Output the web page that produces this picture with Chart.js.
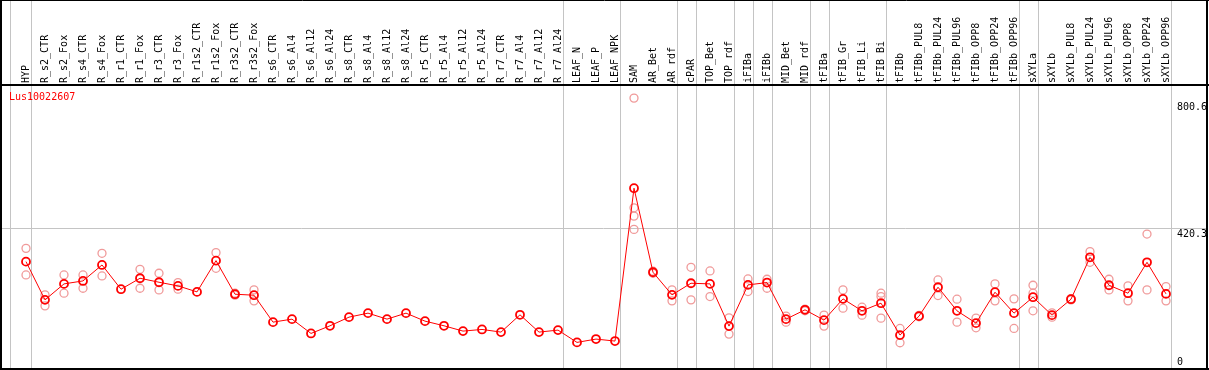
<!DOCTYPE html>
<html>
<head>
<meta charset="utf-8">
<script src="https://cdn.jsdelivr.net/npm/chart.js@4/dist/chart.umd.min.js"></script>
<style>
  html, body { margin: 0; padding: 0; background: #fff; }
  #wrap { width: 1209px; height: 370px; }
</style>
</head>
<body>
<div id="wrap"><canvas id="c"></canvas></div>
<script>
const categories = [
  'HYP', 'R_s2_CTR', 'R_s2_Fox', 'R_s4_CTR', 'R_s4_Fox', 'R_r1_CTR', 'R_r1_Fox', 'R_r3_CTR', 'R_r3_Fox',
  'R_r1s2_CTR', 'R_r1s2_Fox', 'R_r3s2_CTR', 'R_r3s2_Fox', 'R_s6_CTR', 'R_s6_Al4', 'R_s6_Al12', 'R_s6_Al24',
  'R_s8_CTR', 'R_s8_Al4', 'R_s8_Al12', 'R_s8_Al24', 'R_r5_CTR', 'R_r5_Al4', 'R_r5_Al12', 'R_r5_Al24',
  'R_r7_CTR', 'R_r7_Al4', 'R_r7_Al12', 'R_r7_Al24', 'LEAF_N', 'LEAF_P', 'LEAF_NPK', 'SAM', 'AR_Bet', 'AR_rdf',
  'cPAR', 'TOP_Bet', 'TOP_rdf', 'iFIBa', 'iFIBb', 'MID_Bet', 'MID_rdf', 'tFIBa', 'tFIB_Gr', 'tFIB_Li', 'tFIB_Bi',
  'tFIBb', 'tFIBb_PUL8', 'tFIBb_PUL24', 'tFIBb_PUL96', 'tFIBb_OPP8', 'tFIBb_OPP24', 'tFIBb_OPP96',
  'sXYLa', 'sXYLb', 'sXYLb_PUL8', 'sXYLb_PUL24', 'sXYLb_PUL96', 'sXYLb_OPP8', 'sXYLb_OPP24', 'sXYLb_OPP96'
]

// mean expression per sample
const means = [
  320, 205, 253, 262, 310, 237, 270, 258, 247, 229, 323, 222, 219,
  138, 147, 104, 127, 153, 165, 147, 165, 141, 127, 111, 116, 108, 160, 108, 114,
  77, 87, 81, 541, 288, 220, 255, 253, 126, 250, 257, 147, 175, 144, 208, 172, 195,
  99, 156, 243, 172, 135, 228, 165, 213, 159, 207, 333, 249, 225, 318, 223
]

// single replicates per sample
const replicates = [
  [360, 280], [220, 187], [280, 225], [280, 240], [345, 277], [], [297, 240], [285, 235], [257, 237],
  [], [347, 300], [225, 219], [235, 202],
  [], [], [], [], [], [], [], [], [], [], [], [], [], [], [], [],
  [], [], [], [812, 482, 457, 417], [291, 285], [235, 202], [303, 205], [292, 215], [151, 102],
  [268, 230], [267, 240], [156, 138], [177, 172], [159, 126], [235, 180], [183, 159], [225, 215, 150],
  [119, 76], [158, 154], [265, 218], [207, 138], [150, 121], [253, 202], [208, 119],
  [249, 225, 172], [166, 153], [209, 205], [350, 318], [267, 235], [247, 202], [403, 235], [245, 202]
]

const yTicks = [0, 420.3, 800.6]
// separators between sample groups (in sample index units)
const groupLines = [-0.83, 0.25, 28.25, 31.25, 34.25, 35.25, 37.25, 38.25, 39.25, 41.25, 42.25, 45.25, 52.25, 53.25, 60.25]
const geneName = 'Lus10022607'

const MONO = "'DejaVu Sans Mono', monospace"

const meanPoints = means.map((v, i) => ({ x: i, y: v }))
const repPoints = []
replicates.forEach((reps, i) => reps.forEach((v) => repPoints.push({ x: i, y: v })))

const framePlugin = {
  id: 'frame',
  beforeDatasetsDraw(chart) {
    const { ctx, chartArea, scales } = chart
    ctx.save()
    ctx.strokeStyle = '#c4c4c4'
    ctx.lineWidth = 1
    groupLines.forEach((g) => {
      const x = Math.round(scales.x.getPixelForValue(g)) + 0.5
      ctx.beginPath()
      ctx.moveTo(x, 0)
      ctx.lineTo(x, chartArea.bottom)
      ctx.stroke()
    })
    const y = Math.round(scales.y.getPixelForValue(yTicks[1])) + 0.5
    ctx.beginPath()
    ctx.moveTo(0, y)
    ctx.lineTo(chartArea.right, y)
    ctx.stroke()
    ctx.restore()
  },
  afterDraw(chart) {
    const { ctx, chartArea, scales, width, height } = chart
    ctx.save()
    // outer box and separator under the labels
    ctx.strokeStyle = '#000'
    ctx.lineWidth = 2
    ctx.beginPath()
    ctx.moveTo(0, chartArea.top)
    ctx.lineTo(width, chartArea.top)
    ctx.moveTo(1, 0)
    ctx.lineTo(1, height)
    ctx.moveTo(width - 2, 0)
    ctx.lineTo(width - 2, height)
    ctx.moveTo(0, height - 1)
    ctx.lineTo(width, height - 1)
    ctx.stroke()
    ctx.lineWidth = 1
    ctx.beginPath()
    ctx.moveTo(0, 0.5)
    ctx.lineTo(width, 0.5)
    ctx.stroke()

    // value labels on the right, left aligned
    ctx.font = '10px ' + MONO
    ctx.fillStyle = '#000'
    ctx.textAlign = 'left'
    ctx.textBaseline = 'top'
    yTicks.forEach((t) => {
      let y = scales.y.getPixelForValue(t) + 1
      y = Math.min(y, chartArea.bottom - 11)
      ctx.fillText(String(t), chartArea.right - 30, y)
    })

    ctx.fillStyle = '#ff0000'
    ctx.fillText(geneName, chartArea.left + 8, chartArea.top + 7)
    ctx.restore()
  },
}

new Chart(document.getElementById('c'), {
  type: 'line',
  data: {
    datasets: [
      {
        label: 'mean',
        data: meanPoints,
        borderColor: '#ff0000',
        borderWidth: 1,
        pointRadius: 4,
        pointBorderWidth: 1.8,
        pointBorderColor: '#ff0000',
        pointBackgroundColor: 'rgba(0,0,0,0)',
        tension: 0,
      },
      {
        label: 'replicates',
        data: repPoints,
        showLine: false,
        pointRadius: 4,
        pointBorderWidth: 1.3,
        pointBorderColor: '#f09a9a',
        pointBackgroundColor: 'rgba(0,0,0,0)',
      },
    ],
  },
  options: {
    responsive: true,
    maintainAspectRatio: false,
    animation: false,
    layout: { autoPadding: false, padding: { left: 1, right: 2, top: 0, bottom: 2 } },
    plugins: { legend: { display: false }, tooltip: { enabled: false } },
    scales: {
      x: {
        type: 'linear',
        position: 'top',
        min: -25 / 19,
        max: -25 / 19 + 1206 / 19,
        afterBuildTicks: (s) => {
          s.ticks = categories.map((c, i) => ({ value: i }))
        },
        afterFit: (s) => {
          s.height = 85
          s.paddingLeft = 0
          s.paddingRight = 0
        },
        grid: { display: false, drawTicks: false },
        border: { display: false },
        ticks: {
          autoSkip: false,
          minRotation: 90,
          maxRotation: 90,
          padding: 2,
          labelOffset: 12,
          color: '#000',
          font: { family: MONO, size: 10 },
          callback: (v) => categories[v],
        },
      },
      y: {
        display: false,
        min: 0,
        max: 851.4,
      },
    },
  },
  plugins: [framePlugin],
})
</script>
</body>
</html>
